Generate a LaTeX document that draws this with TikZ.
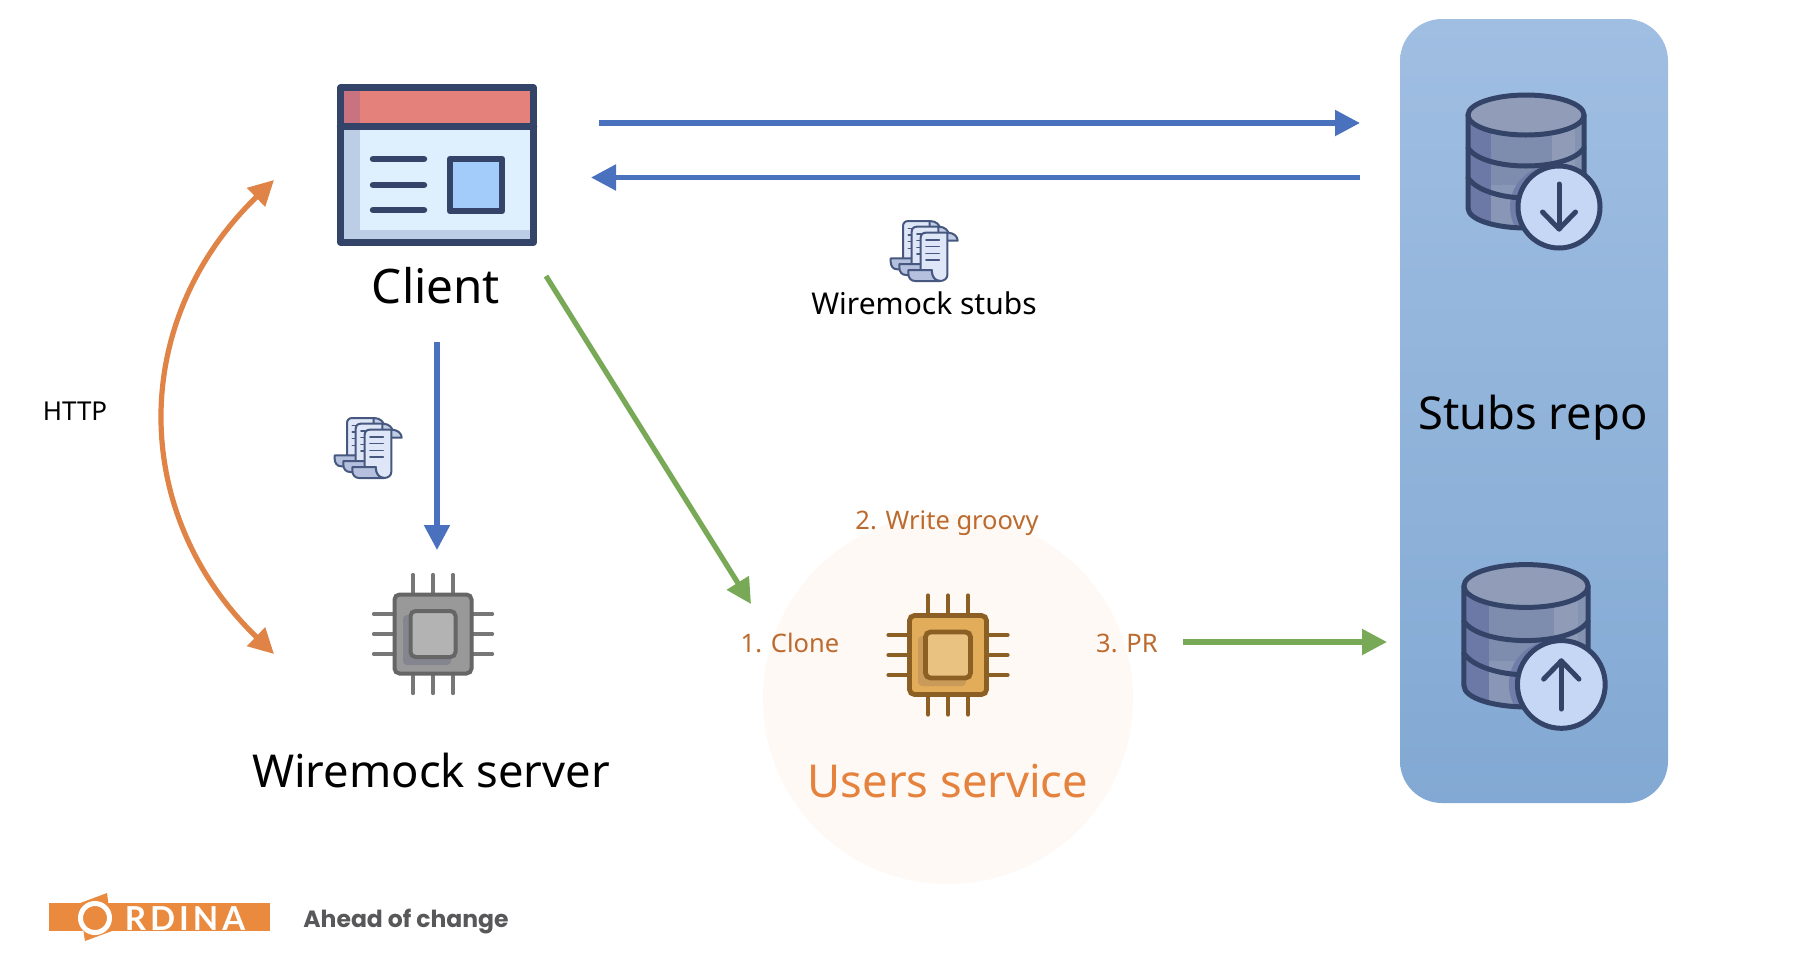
\documentclass[tikz,border=0pt]{standalone}
\usepackage{fontspec}
\setmainfont{Noto Sans}
\newfontfamily\logofont{Poppins}
\newfontfamily\ordfont{Lato}
\usetikzlibrary{arrows.meta}
\definecolor{navy}{HTML}{344469}
\definecolor{bluearrow}{HTML}{4A71BD}
\definecolor{greenarrow}{HTML}{78A956}
\definecolor{orangearrow}{HTML}{E08347}
\definecolor{labelbrown}{HTML}{BC6A2E}
\definecolor{usersorange}{HTML}{E5823D}
\definecolor{ordina}{HTML}{E98A3E}
\definecolor{scrollline}{HTML}{46587F}
\definecolor{halo}{HTML}{FEF9F5}
\definecolor{paneltop}{HTML}{A0BEE2}
\definecolor{panelbot}{HTML}{82A9D3}
\definecolor{dbbody}{HTML}{7E8DAE}
\definecolor{dbleft}{HTML}{6C78A5}
\definecolor{dbright}{HTML}{8F9BB7}
\definecolor{dbfar}{HTML}{8593B2}
\definecolor{dblow}{HTML}{8A96B5}
\definecolor{dbshade}{HTML}{6F7DA8}
\definecolor{dbtop}{HTML}{919DB8}
\definecolor{badge}{HTML}{C6D7F6}
\definecolor{chipgbody}{HTML}{999999}
\definecolor{chipginner}{HTML}{B3B3B3}
\definecolor{chipgline}{HTML}{666666}
\definecolor{chipgpin}{HTML}{777777}
\definecolor{chipgshade}{HTML}{858590}
\definecolor{chipobody}{HTML}{E2AD5B}
\definecolor{chipoinner}{HTML}{E9C282}
\definecolor{chipoline}{HTML}{8C5F25}
\definecolor{chiposhade}{HTML}{C99A58}
\definecolor{sheetcurl}{HTML}{C3CDE6}
\definecolor{sheetbody}{HTML}{DFE6F7}
\definecolor{sheetfoot}{HTML}{B4C0DE}
\definecolor{winbody}{HTML}{DEF0FE}
\definecolor{winshade}{HTML}{BCCDE6}
\definecolor{winhead}{HTML}{E5817B}
\definecolor{winheadshade}{HTML}{C8737F}
\definecolor{winsquare}{HTML}{A3CCFA}
\definecolor{aheadgrey}{HTML}{58585A}
\tikzset{
  x=1pt,y=-1pt,
  conn/.style={line width=5.2pt,-{Triangle[length=25pt,width=25pt]}},
  blueconn/.style={conn,draw=bluearrow,bluearrow},
  greenconn/.style={conn,draw=greenarrow,greenarrow},
  lab/.style={anchor=base,inner sep=0pt,outer sep=0pt},
  biglab/.style={lab,font=\fontsize{45.3}{50}\selectfont,text=black},
  midlab/.style={lab,font=\fontsize{30}{32}\selectfont,text=black},
  steplab/.style={lab,font=\fontsize{25.5}{28}\selectfont,text=labelbrown},
  iconline/.style={draw=navy,line cap=round,line join=round},
}
% cylinder with a round badge; #4 = 1 arrow down, -1 arrow up
\newcommand{\dbicon}[4]{%
\begin{scope}[shift={(#1,#2)},scale=#3]
  \def\bodypath{(-58,0) -- (-58,93) .. controls (-58,105) and (-30,113) .. (0,113) .. controls (30,113) and (58,105) .. (58,93) -- (58,0) -- cycle}
  \begin{scope}
    \clip \bodypath;
    \fill[fill=dbbody] (-60,-5) rectangle (60,120);
    \fill[fill=dbleft] (-60,-5) rectangle (-35,120);
    \fill[fill=dbright] (26,-5) rectangle (49,120);
    \fill[fill=dbfar] (49,-5) rectangle (60,120);
    \fill[fill=dblow] (-35,70) rectangle (60,120);
    \fill[fill=dbshade] (25,92) circle[radius=41];
  \end{scope}
  \draw[iconline,line width=5pt] \bodypath;
  \draw[iconline,line width=5pt] (-58,33) .. controls (-50,45) and (-25,51) .. (0,51) .. controls (25,51) and (50,45) .. (58,33);
  \draw[iconline,line width=5pt] (-58,63) .. controls (-50,75) and (-25,83) .. (0,83) .. controls (25,83) and (50,75) .. (58,63);
  \draw[iconline,line width=5pt,fill=dbtop] (0,0) ellipse[x radius=58,y radius=20];
  \draw[iconline,line width=5pt,fill=badge] (33,92) circle[radius=41];
  \draw[iconline,line width=5pt] (33,{92-#4*23}) -- (33,{92+#4*22});
  \draw[iconline,line width=5pt] (16.5,{92+#4*5}) -- (33,{92+#4*22}) -- (49.5,{92+#4*5});
\end{scope}}
% chip: cx, cy, fill, inner fill, stroke, pin colour, shade, pin width, stroke width
\newcommand{\chipicon}[9]{%
\begin{scope}[shift={(#1,#2)}]
  \foreach \p in {-20,0,20}{
    \draw[draw=#6,line width=#8,line cap=round] (\p,-59.5) -- (\p,-39);
    \draw[draw=#6,line width=#8,line cap=round] (\p,59.5) -- (\p,39);
    \draw[draw=#6,line width=#8,line cap=round] (-59.5,\p) -- (-39,\p);
    \draw[draw=#6,line width=#8,line cap=round] (59.5,\p) -- (39,\p);
  }
  \draw[draw=#5,fill=#3,line width=#9,rounded corners=5pt] (-38.5,-39.5) rectangle (38.5,39.5);
  \fill[fill=#7,rounded corners=4pt] (-30,-19) rectangle (18,31);
  \draw[draw=#5,fill=#4,line width=#9,rounded corners=5pt] (-22.5,-23) rectangle (22.5,23);
\end{scope}}
% one sheet of the scroll stack, in 3x-zoom units
\newcommand{\sheetpart}[2]{%
\begin{scope}[shift={(#1,#2)}]
  \draw[draw=scrollline,fill=sheetcurl,line width=2pt,line join=round] (172,68) .. controls (192,68) and (203,80) .. (203,92) -- (172,92);
  \draw[draw=scrollline,fill=sheetbody,line width=2pt,line join=round] (92,185) -- (92,84) .. controls (92,74) and (98,68) .. (108,68) -- (172,68) -- (172,195) .. controls (172,205) and (163,213) .. (150,213) .. controls (135,213) and (125,200) .. (125,180) -- cycle;
  \draw[draw=scrollline,fill=sheetfoot,line width=2pt,line join=round] (55,180) -- (125,180) .. controls (125,200) and (135,213) .. (150,213) -- (75,213) .. controls (62,213) and (55,203) .. (55,190) -- cycle;
  \foreach \yy in {90,110,130,150}{\draw[draw=scrollline,line width=1.6pt,line cap=round] (108,\yy) -- (148,\yy);}
\end{scope}}
\newcommand{\scrollicon}[2]{%
\begin{scope}[shift={(#1,#2)},scale=0.3333]
  \sheetpart{-53}{-35}\sheetpart{-27}{-18}\sheetpart{0}{0}
\end{scope}}
\begin{document}
\begin{tikzpicture}
\useasboundingbox (0,0) rectangle (1812,970);
\fill[white] (0,0) rectangle (1812,970);
% users service halo
\fill[fill=halo] (948,699) circle[radius=185];
% stubs repo panel
\shade[top color=paneltop,bottom color=panelbot,rounded corners=42pt] (1400,19) rectangle (1668,803);
% client window icon
\fill[fill=winbody] (340,126) rectangle (534,243);
\fill[fill=winshade] (340,126) rectangle (360,243);
\fill[fill=winshade] (340,230) rectangle (534,243);
\fill[fill=winhead] (340,87) rectangle (534,126);
\fill[fill=winheadshade] (340,87) rectangle (360,126);
\draw[iconline,line width=6.5pt] (340.5,87.5) rectangle (533.5,242.5);
\draw[iconline,line width=6.5pt] (340,126.5) -- (534,126.5);
\foreach \yy in {159,185,210}{\draw[iconline,line width=6.5pt] (373,\yy) -- (424,\yy);}
\draw[iconline,line width=6.5pt,fill=winsquare] (450,159) rectangle (502,211);
% database icons
\dbicon{1526}{115}{1}{1}
\dbicon{1526}{586}{1.07}{-1}
% chips
\chipicon{433}{634}{chipgbody}{chipginner}{chipgline}{chipgpin}{chipgshade}{3.2pt}{4pt}
\chipicon{948}{655}{chipobody}{chipoinner}{chipoline}{chipoline}{chiposhade}{4.2pt}{4.8pt}
% scrolls
\scrollicon{890}{210}
\scrollicon{334}{407}
% labels
\node[biglab,font=\fontsize{47.6}{50}\selectfont] (client) at (436,303) {Client};
\node[biglab] (stubsrepo) at (1533,429) {Stubs repo};
\node[biglab] (wmserver) at (431,787) {Wiremock server};
\node[biglab,text=usersorange] (users) at (948,797) {Users service};
\node[midlab] (stubs) at (924,314) {Wiremock stubs};
\node[lab,font=\fontsize{26}{28}\selectfont] (http) at (75,420) {HTTP};
\node[steplab] (write) at (947,529) {2. Write groovy};
\node[steplab] (clone) at (790,652) {1. Clone};
\node[steplab] (pr) at (1127,652) {3. PR};
% connector ends
\coordinate (c1a) at (599,123);
\coordinate (c1b) at (1360,123);
\coordinate (c2a) at (1360,177.5);
\coordinate (c2b) at (591,177.5);
\coordinate (c3a) at (437,342);
\coordinate (c3b) at (437,550);
\coordinate (c4a) at (546,276);
\coordinate (c4b) at (751,604);
\coordinate (c5a) at (1183,642);
\coordinate (c5b) at (1387,642);
\coordinate (c6a) at (274,180);
\coordinate (c6b) at (274,654);
\draw[blueconn] (c1a) -- (c1b);
\draw[blueconn] (c2a) -- (c2b);
\draw[blueconn] (c3a) -- (c3b);
\draw[greenconn] (c4a) -- (c4b);
\draw[greenconn] (c5a) -- (c5b);
\draw[line width=5.2pt,draw=orangearrow,orangearrow,{Triangle[length=25pt,width=25pt]}-{Triangle[length=25pt,width=25pt]}] (c6a) .. controls (129,320) and (129,514) .. (c6b);
% logo
\fill[fill=ordina] (49,903) rectangle (270,931);
\fill[fill=ordina] (79,903.5) -- (107,893) -- (112,931) -- (85,941) -- cycle;
\draw[draw=white,line width=5pt] (95,918) circle[radius=14.5];
\node[lab,font=\ordfont\bfseries\fontsize{33}{35}\selectfont,text=white] (ordina) at (185,930) {\addfontfeature{LetterSpace=12}RDINA};
\node[lab,font=\logofont\bfseries\fontsize{23.5}{28}\selectfont,text=aheadgrey] (ahead) at (406,927) {Ahead of change};
\end{tikzpicture}
\end{document}
